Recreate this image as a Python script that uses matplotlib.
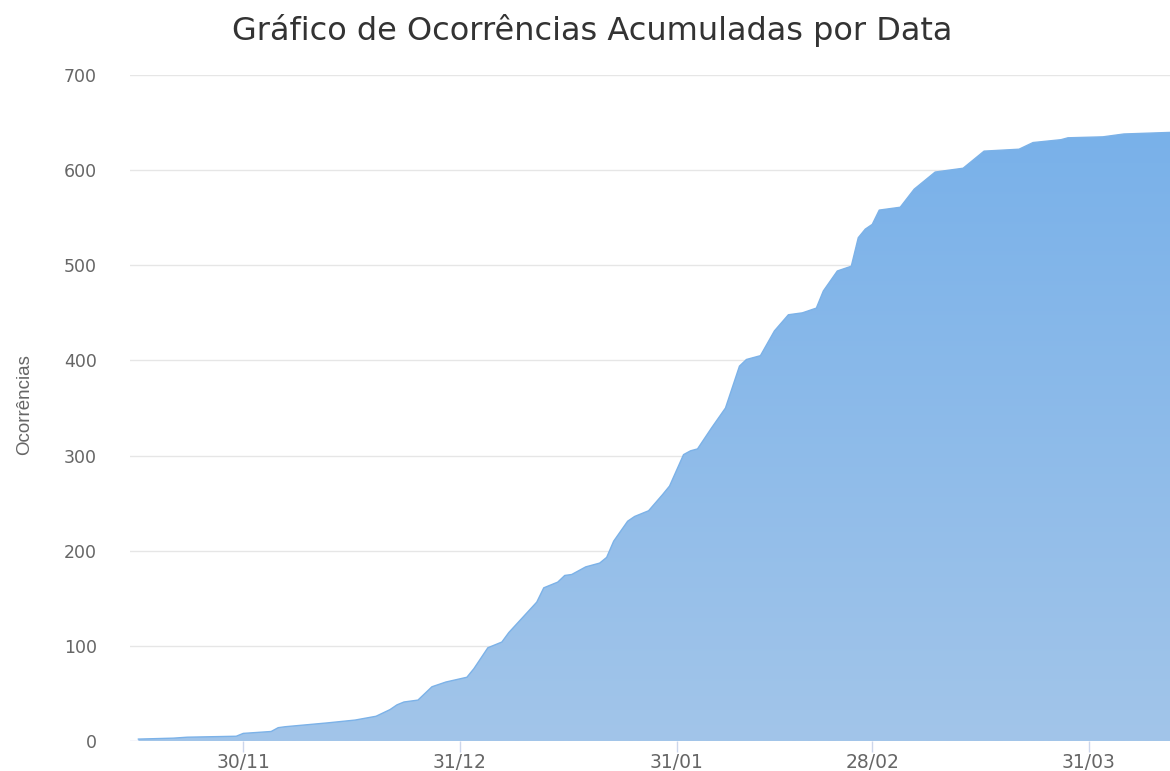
import matplotlib
matplotlib.use("Agg")
import matplotlib.pyplot as plt
import matplotlib.dates as mdates
import numpy as np
import pandas as pd
from matplotlib.colors import LinearSegmentedColormap

# vertices (accumulated occurrences)
datas = ["2020-11-15", "2020-11-20", "2020-11-22", "2020-11-29", "2020-11-30",
         "2020-12-04", "2020-12-05", "2020-12-06", "2020-12-12", "2020-12-16",
         "2020-12-19", "2020-12-21", "2020-12-22", "2020-12-23", "2020-12-25",
         "2020-12-27", "2020-12-29", "2021-01-01", "2021-01-02", "2021-01-04",
         "2021-01-06", "2021-01-07", "2021-01-09", "2021-01-11", "2021-01-12",
         "2021-01-14", "2021-01-15", "2021-01-16", "2021-01-18", "2021-01-20",
         "2021-01-21", "2021-01-22", "2021-01-24", "2021-01-25", "2021-01-27",
         "2021-01-29", "2021-01-30", "2021-02-01", "2021-02-02", "2021-02-03",
         "2021-02-05", "2021-02-07", "2021-02-09", "2021-02-10", "2021-02-12",
         "2021-02-14", "2021-02-16", "2021-02-18", "2021-02-20", "2021-02-21",
         "2021-02-23", "2021-02-25", "2021-02-26", "2021-02-27", "2021-02-28",
         "2021-03-01", "2021-03-04", "2021-03-06", "2021-03-09", "2021-03-13",
         "2021-03-16", "2021-03-21", "2021-03-23", "2021-03-27", "2021-03-28",
         "2021-04-02", "2021-04-05", "2021-04-13"]
ocorrencias = [2, 3, 4, 5, 8,
               10, 14, 15, 19, 22,
               26, 33, 38, 41, 43,
               57, 62, 67, 76, 98,
               104, 114, 130, 146, 161,
               167, 174, 175, 183, 187,
               193, 210, 231, 236, 242,
               259, 268, 301, 305, 307,
               329, 350, 394, 401, 405,
               431, 448, 450, 455, 473,
               494, 499, 529, 538, 543,
               558, 561, 580, 598, 602,
               620, 622, 629, 632, 634,
               635, 638, 640]

tick_datas = ["2020-11-30", "2020-12-31", "2021-01-31", "2021-02-28", "2021-03-31"]
tick_labels = ["30/11", "31/12", "31/01", "28/02", "31/03"]
y_ticks = [0, 100, 200, 300, 400, 500, 600, 700]

x = mdates.date2num(pd.to_datetime(datas))
y = np.array(ocorrencias)
ref = mdates.date2num(pd.Timestamp("2020-11-30"))

fig = plt.figure(figsize=(11.7, 7.71), dpi=100)
ax = fig.add_axes([130 / 1170, 30 / 771, 1 - 130 / 1170, 666 / 771])

for t in y_ticks[1:]:
    ax.axhline(t, color="#e6e6e6", lw=1, zorder=0)
ax.axhline(0, color="#ccd6eb", lw=1, zorder=0)

poly = ax.fill_between(x, y, 0, facecolor="none", edgecolor="none")
cmap = LinearSegmentedColormap.from_list("g", ["#a2c5e9", "#79b1ea"])
grad = np.linspace(0, 1, 256).reshape(-1, 1)
im = ax.imshow(grad, extent=[x[0], x[-1], 0, y.max()], aspect="auto",
               cmap=cmap, origin="lower", zorder=1)
im.set_clip_path(poly.get_paths()[0], transform=ax.transData)
ax.plot(x, y, color="#7cb2e8", lw=1, zorder=2)

ax.set_xlim(ref - 16.2, ref + 132.6)
ax.set_ylim(0, 700)
for s in ax.spines.values():
    s.set_visible(False)

ax.set_xticks(mdates.date2num(pd.to_datetime(tick_datas)))
ax.set_xticklabels(tick_labels)
ax.set_yticks(y_ticks)
ax.set_yticklabels([str(v) for v in y_ticks])
ax.tick_params(axis="x", length=8, width=1, color="#ccd6eb", pad=1,
               labelsize=13.5, labelcolor="#666666")
ax.tick_params(axis="y", length=0, pad=24, labelsize=12.5, labelcolor="#666666")

fig.text(0.021, 0.475, "Ocorrências", rotation=90, ha="center", va="center",
         fontsize=13.5, color="#666666", family=["Liberation Sans", "DejaVu Sans"])
fig.text(0.506, 0.961, "Gráfico de Ocorrências Acumuladas por Data",
         ha="center", va="center", fontsize=23, color="#333333")

fig.savefig("out.png", dpi=100)
